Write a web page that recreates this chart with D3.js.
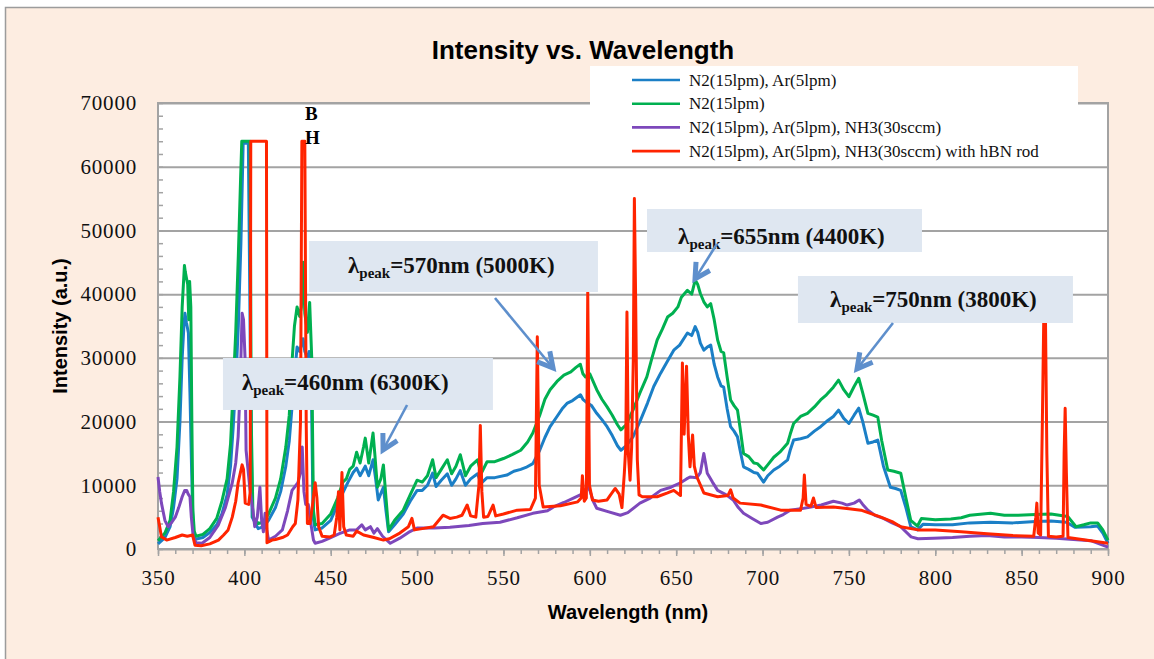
<!DOCTYPE html>
<html>
<head>
<meta charset="utf-8">
<script src="https://cdn.jsdelivr.net/npm/d3@7"></script>
<style>
  body { margin: 0; background: #fff; }
</style>
</head>
<body>
<div id="chart"></div>
<script>

// series names, in drawing order (last one on top)
const seriesNames = [
  "N2(15lpm), Ar(5lpm)",
  "N2(15lpm)",
  "N2(15lpm), Ar(5lpm), NH3(30sccm)",
  "N2(15lpm), Ar(5lpm), NH3(30sccm) with hBN rod"
];
const seriesColors = ["#1b7fc6", "#00b050", "#7d48bb", "#ff2400"];

// [wavelength nm, intensity a.u.]
const n2ArData = [
  [350,800],[354,1800],[357,3500],[359,6500],[361,11000],[362.7,20000],[364,30000],[365,35000],[365.6,37000],
  [366.5,35500],[367.6,33900],[368.5,24500],[369.5,12000],[370.3,3500],[371,1500],[376,1800],[380,2600],
  [384,3800],[387,5500],[390,8500],[392,13000],[393.5,19000],[395,26000],[396.5,35000],[398,48000],[399,60000],
  [399.3,63700],[402.3,63700],[403.5,30000],[404.5,5000],[408,3200],[411,3500],[414,4500],[418,6500],[421,9000],
  [424,13000],[426,17000],[427.5,22000],[429,27000],[430.5,31700],[432,31000],[433,32000],[434,33000],[435,31000],
  [436.5,30000],[437.5,31000],[438.8,25000],[439.8,5000],[441,3000],[445,3300],[450,4500],[454,7000],[457,8800],
  [460,10500],[463,12000],[465,12700],[467,11500],[470,13000],[472,11500],[474.5,14000],[476,11000],[477.5,7700],
  [480.5,9700],[482,6000],[483.5,2700],[487,3800],[492,5500],[496,7500],[500,9200],[503,9200],[506,10000],
  [509,11900],[511,9800],[514,10800],[517.5,11800],[520,10000],[522.5,11000],[525,12300],[528,10000],[531,11000],
  [535,11800],[537,10300],[540.5,11200],[545,11200],[552,11600],[556,12200],[560,12500],[563,12800],[567,13400],
  [571,15500],[574,17500],[577,19200],[581,20800],[584,22000],[587,22900],[590,23300],[594.6,24200],[596,23500],
  [598.6,22900],[601,22500],[604,21300],[607,20300],[610,19200],[613,17800],[616,16200],[618,15500],[621,16200],
  [625,17600],[629,20000],[633.4,22900],[637,25500],[641,27600],[645,29500],[648.6,31200],[652,32000],[656.5,33900],
  [659,33500],[661,34900],[662.5,34000],[664,32300],[666,31200],[668,31700],[670,32000],[672,29000],[674,27000],
  [676,25600],[677.5,25400],[679.5,22000],[681.5,19200],[683.5,18500],[685.5,17600],[687,15500],[689,12900],
  [692,12500],[695,12000],[697,11900],[700.6,10500],[703,11500],[706.5,12400],[710,13000],[714.5,14000],[716,15500],
  [718,17100],[722,17300],[726,17600],[730,18500],[733.6,19200],[737,20000],[741,20800],[744,21800],[747,20500],
  [750,19700],[753,21000],[755.7,22100],[758,20000],[761,16600],[764,16800],[766.7,17100],[770,13000],[774,9700],
  [777,9500],[780,9200],[783,6500],[785.8,3500],[789.7,3000],[793,3900],[800,3800],[810,3800],[820,4100],
  [832,4200],[845,4100],[858,4300],[867,4400],[876,4200],[881,3400],[890,3500],[894,3600],[897,2500],[900,900]
];

const n2Data = [
  [350,1300],[354,2500],[357,4500],[359,9000],[361,16000],[362.7,27000],[364,38000],[365.3,44500],[365.8,43500],
  [366.5,42500],[367.2,41500],[367.8,36000],[368.3,42000],[369,38000],[369.6,20000],[370.2,6000],[371,2800],
  [372,2000],[376,2300],[380,3200],[384,4800],[387,7500],[390,11000],[392,16500],[393.5,25000],[395,34000],
  [396.5,46000],[397.8,58000],[398.5,64000],[403.3,64000],[404,20000],[405,5000],[408,4000],[411,4200],[414,5500],
  [418,8000],[421,11000],[424,16000],[426,21000],[427.5,29000],[429,35000],[430.5,38000],[432,36500],[433,38000],
  [434,45000],[435,37000],[436.5,34000],[437.8,38700],[439,30000],[440,6000],[441,3800],[445,4000],[450,5500],
  [454,8000],[457,10500],[459,11000],[461,12500],[463,13000],[465,15200],[467,13500],[469,16000],[470,17400],
  [472,13500],[474.5,18200],[475.5,15000],[477,9700],[479,11000],[480.5,13200],[482,8000],[483.5,3000],[487,4500],
  [492,6100],[496,8500],[500,10800],[503,10500],[506,11500],[509,14000],[511,11200],[514,12500],[517.5,14000],
  [520,11800],[522.5,13000],[525,14800],[528,11500],[531,13000],[535,14000],[537,11800],[540.5,13700],[545,13700],
  [550,14200],[555,14800],[560,15500],[564,16800],[567,18200],[571,21000],[574,23500],[577,25000],[581,26300],
  [585,27300],[589,27800],[592,28500],[594.5,29000],[596,27500],[597.5,27000],[600,27500],[604,25000],[607,23500],
  [610,22300],[613,21000],[616,19500],[618,18700],[621,19500],[625,21800],[629,24500],[633,27000],[636,30000],
  [639,32800],[642,34500],[645,36400],[648,37000],[651,38000],[653,39500],[656.5,40600],[659,40000],[661,42200],
  [662.5,41500],[664,40100],[666,38800],[668,38000],[670,38500],[672,36000],[674,32800],[676,31000],[677.5,30800],
  [679.5,27000],[681.5,23400],[683.5,22500],[685.5,21800],[687,19000],[689,15000],[692,14500],[695,13500],
  [697,13400],[700.6,12400],[703,13200],[706.5,14400],[710,15200],[714.5,16600],[716,18000],[718,19700],[722,20800],
  [726,21300],[730,22300],[733.6,23400],[737,24200],[741,25400],[744,26500],[747,25000],[750,23900],[753,25500],
  [755.7,26800],[758,24500],[761,21300],[764,21000],[766.7,20700],[769,17000],[772.5,12400],[776,12200],[780,11900],
  [783,8000],[785.8,4500],[789.7,3600],[792,4800],[800,4600],[809,4700],[815,4900],[820,5300],[832,5600],[840,5300],
  [848,5300],[858,5400],[867,5500],[876.7,5100],[881.5,3500],[886,3800],[890,4100],[894,4100],[897,3000],[900,1400]
];

const nh3Data = [
  [350,11300],[351,9000],[352,7200],[354,4500],[355.8,3500],[358,4200],[360,5000],[362,6500],[364,8200],
  [365.5,9200],[366.6,9200],[367.5,8600],[368.5,8200],[369.3,5000],[370.4,1900],[372,1000],[375.5,900],[380,1800],
  [385,3800],[389,6500],[393,10400],[395,13500],[396.4,17600],[397.5,25000],[398.7,37000],[399.5,36000],
  [400.4,30000],[401,15500],[403.3,9200],[405,6000],[406,3500],[407.5,5000],[409,9700],[410,4500],[411,2700],
  [412,5600],[413,3000],[414,1400],[418,2000],[422,3000],[425,6000],[427.6,9200],[431,10400],[432.5,12000],
  [433.5,16000],[434.5,9000],[435.5,7000],[437,7000],[438.5,4000],[440,1400],[441,900],[445,1200],[450,1800],
  [455,2400],[461,3000],[465,3000],[468,3800],[470,3000],[473,3500],[475,2500],[477,3200],[480,2000],[484.5,900],
  [490,1700],[495,2600],[500,3300],[510,3300],[519,3400],[530,3700],[538,4000],[548,4200],[558,4900],[567,5600],
  [575.5,6000],[579,6600],[585,7300],[590.5,8000],[596,8700],[598.6,9800],[600,9200],[602,7500],[604,6400],
  [610,5900],[617.7,5300],[622,5700],[629,7200],[635,8000],[641,9200],[647,9700],[652.5,10400],[656,11000],
  [658,11300],[662,11200],[664,12000],[665,13500],[666,15000],[667,13500],[668,11900],[671,10500],[674,9200],
  [679,8500],[683,7700],[686,6500],[689,5600],[694,4800],[699,4000],[703,4200],[708.7,5000],[712,5400],[716,6100],
  [722,6300],[728,6600],[734,6900],[741,7500],[746,7200],[749,6900],[753,7200],[756,7700],[758,7000],[761,6100],
  [765,5300],[770,4800],[775,4100],[780,3500],[786,1900],[790,1600],[799,1700],[810,1800],[820,2000],[830,2100],
  [840,1900],[850,1900],[860,1800],[870,1700],[880,1500],[890,1300],[900,300]
];

const hbnData = [
  [350,5000],[351,3500],[352,1900],[355,1400],[360,1800],[364,2200],[367,2000],[370,2200],[371.4,600],[375,500],
  [380,800],[385,1400],[388,2200],[390.6,3000],[393,5000],[395,7500],[396.4,10400],[398.7,13200],[399.5,12500],
  [400.5,7200],[402.5,7000],[403.4,9000],[403.7,64000],[412.8,64000],[413.1,1000],[416,1400],[418,1500],[422,1800],
  [425,2200],[428,3500],[429.5,4000],[431,7700],[432.5,20000],[433.3,64000],[435,64000],[435.8,20000],[436.5,4000],
  [438,4000],[439.5,7000],[441,10400],[442,8000],[443,3500],[445,2000],[449.7,1900],[452,2200],[453.5,5000],
  [454.5,9000],[455.3,3000],[456.5,12000],[457.5,3500],[459,2200],[463,2000],[465,2800],[469,2200],[475,1800],
  [480.5,1400],[484,1600],[490,2500],[495,3500],[497,4800],[498.5,3000],[503,3200],[509.5,3500],[515,5300],
  [519,4800],[523,5000],[526,5300],[529,6900],[531,5200],[534,5000],[535.8,10000],[536.6,19400],[537.5,9000],
  [538.5,5000],[541,5100],[544,6900],[545.5,5200],[550,5500],[558,6100],[565.6,6200],[568.5,8000],[569.6,33300],
  [570.7,10000],[573,6600],[583,6800],[593,7400],[595,8000],[595.7,11500],[596.8,7500],[598,8000],[598.8,40300],
  [599.8,10000],[601.5,7700],[605,7500],[610,7700],[612,8500],[614.7,9500],[617,8600],[618.6,6500],[620,12000],
  [620.8,16000],[621.5,37200],[622.3,15000],[623.3,10800],[624.2,16000],[625.2,30000],[625.8,55000],[626.5,40000],
  [627.5,14000],[628.5,8500],[630.4,8200],[639,8200],[645,8800],[648.6,9200],[652.5,8400],[653.6,29200],
  [654.6,18000],[656,28700],[657,18000],[658,12900],[659.5,17900],[660.5,13000],[662,11300],[666,8800],[674,8200],
  [680,8400],[681.5,9300],[683,8000],[687,7200],[699,6900],[710.5,6100],[722,6100],[723.5,8000],[724.2,11600],
  [725.2,7000],[728,6700],[729.5,8000],[731,6500],[741,6600],[750,6300],[757,6100],[768.5,5000],[775,4300],
  [780,3500],[790,3000],[800,3000],[815,2700],[830,2400],[845,2100],[857,2000],[858.2,5000],[858.8,7200],
  [859.6,2500],[861,2200],[862,20000],[862.8,36000],[863.8,36000],[864.6,15000],[865.5,2000],[870,1900],[874,2000],
  [874.6,15000],[875.2,22100],[875.9,12000],[876.8,1800],[885,1500],[895,1100],[900,900]
];

const allSeries = [n2ArData, n2Data, nh3Data, hbnData];

// axis ticks
const xTicks = [350, 400, 450, 500, 550, 600, 650, 700, 750, 800, 850, 900];
const yTicks = [0, 10000, 20000, 30000, 40000, 50000, 60000, 70000];

// peak call-outs: label, arrow tail and tip [nm, value], box corners [nm, value]
const peakLabels = ["=460nm (6300K)", "=570nm (5000K)", "=655nm (4400K)", "=750nm (3800K)"];
const peakTail = [[494.2, 22600], [545.1, 39390], [673.6, 47890], [775.5, 35470]];
const peakTip = [[480.3, 15540], [578.7, 28410], [660.9, 42400], [754.7, 28250]];
const peakBoxes = [
  [[387.6, 29980], [543.9, 21820]],
  [[437.4, 48340], [604.7, 40340]],
  [[633.1, 53360], [792.3, 46610]],
  [[720.5, 42850], [879.7, 35470]]
];
const peakTextAt = [[398.6, 24955], [460, 43320], [651.1, 47890], [739.1, 38010]];

const width = 1154, height = 659;
const margin = {left: 158, right: 46, top: 103, bottom: 110};
const serif = "Liberation Serif", sans = "Liberation Sans";

const svg = d3.select("#chart").append("svg")
  .attr("width", width)
  .attr("height", height)
  .attr("font-family", serif);

// chart area
svg.append("rect")
  .attr("x", 5.5).attr("y", 7.5)
  .attr("width", 1170).attr("height", 680)
  .attr("fill", "#fdede1")
  .attr("stroke", "#9c9c9c")
  .attr("stroke-width", 1.5);

const x = d3.scaleLinear().domain([350, 900]).range([margin.left, width - margin.right]);
const y = d3.scaleLinear().domain([0, 70000]).range([height - margin.bottom, margin.top]);

// plot area
svg.append("rect")
  .attr("x", x(350)).attr("y", y(70000))
  .attr("width", x(900) - x(350)).attr("height", y(0) - y(70000))
  .attr("fill", "#fff");

// gridlines
svg.append("g")
  .attr("transform", `translate(${x(350)},0)`)
  .call(d3.axisLeft(y).tickValues(yTicks).tickSize(-(x(900) - x(350))).tickFormat(""))
  .call(g => g.select(".domain").remove())
  .call(g => g.selectAll("line").attr("stroke", "#a3a3a3").attr("stroke-width", 2));

// y minor ticks (inside)
svg.append("g")
  .attr("transform", `translate(${x(350)},0)`)
  .call(d3.axisRight(y).tickValues(d3.range(0, 70001, 2000)).tickSize(5).tickFormat(""))
  .call(g => g.select(".domain").remove())
  .call(g => g.selectAll("line").attr("stroke", "#a3a3a3").attr("stroke-width", 1.5));

// y labels
svg.append("g")
  .attr("transform", `translate(${x(350)},0)`)
  .call(d3.axisLeft(y).tickValues(yTicks).tickSize(0).tickPadding(21).tickFormat(d3.format("d")))
  .call(g => g.select(".domain").remove())
  .call(g => g.selectAll("text")
    .attr("font-family", serif).attr("font-size", 21)
    .attr("letter-spacing", 0.8).attr("fill", "#111"));

// x minor ticks
svg.append("g")
  .attr("transform", `translate(0,${y(0)})`)
  .call(d3.axisBottom(x).tickValues(d3.range(350, 901, 10)).tickSize(5).tickFormat(""))
  .call(g => g.select(".domain").remove())
  .call(g => g.selectAll("line").attr("stroke", "#a3a3a3").attr("stroke-width", 1.5));

// x major ticks + labels
svg.append("g")
  .attr("transform", `translate(0,${y(0)})`)
  .call(d3.axisBottom(x).tickValues(xTicks).tickSize(7).tickPadding(14).tickFormat(d3.format("d")))
  .call(g => g.select(".domain").remove())
  .call(g => g.selectAll("line").attr("stroke", "#a3a3a3").attr("stroke-width", 1.5))
  .call(g => g.selectAll("text")
    .attr("font-family", serif).attr("font-size", 21)
    .attr("letter-spacing", 0.8).attr("fill", "#111"));

// plot border
svg.append("rect")
  .attr("x", x(350)).attr("y", y(70000))
  .attr("width", x(900) - x(350)).attr("height", y(0) - y(70000))
  .attr("fill", "none")
  .attr("stroke", "#a3a3a3")
  .attr("stroke-width", 2);

// spectra
const line = d3.line()
  .x(d => x(d[0]))
  .y(d => y(d[1]));

svg.selectAll(".spectrum")
  .data(allSeries)
  .enter()
  .append("path")
    .attr("class", "spectrum")
    .attr("d", line)
    .attr("fill", "none")
    .attr("stroke", (d, i) => seriesColors[i])
    .attr("stroke-width", 3)
    .attr("stroke-linejoin", "round");

// B / H labels
svg.append("text").attr("x", x(435.1)).attr("y", y(67330))
  .attr("font-weight", "bold").attr("font-size", 19).text("B");
svg.append("text").attr("x", x(435.1)).attr("y", y(63560))
  .attr("font-weight", "bold").attr("font-size", 19).text("H");

// peak call-outs
const arrowColor = "#5e8fcc";
peakLabels.forEach((lab, i) => {
  const b = peakBoxes[i];
  svg.append("rect")
    .attr("x", x(b[0][0])).attr("y", y(b[0][1]))
    .attr("width", x(b[1][0]) - x(b[0][0]))
    .attr("height", y(b[1][1]) - y(b[0][1]))
    .attr("fill", "#dfe7f1");

  const t = svg.append("text")
    .attr("x", x(peakTextAt[i][0])).attr("y", y(peakTextAt[i][1]))
    .attr("font-weight", "bold").attr("font-size", 23).attr("fill", "#111");
  t.append("tspan").text("λ");
  t.append("tspan").attr("font-size", 15).attr("dy", 5).text("peak");
  t.append("tspan").attr("dy", -5).text(lab);

  const x0 = x(peakTail[i][0]), y0 = y(peakTail[i][1]);
  const x1 = x(peakTip[i][0]), y1 = y(peakTip[i][1]);
  svg.append("line")
    .attr("x1", x0).attr("y1", y0).attr("x2", x1).attr("y2", y1)
    .attr("stroke", arrowColor).attr("stroke-width", 2.6);
  const ang = Math.atan2(y0 - y1, x0 - x1);
  const len = 17, spread = 0.5;
  const pts = [
    [x1 + len * Math.cos(ang - spread), y1 + len * Math.sin(ang - spread)],
    [x1, y1],
    [x1 + len * Math.cos(ang + spread), y1 + len * Math.sin(ang + spread)]
  ];
  svg.append("path")
    .attr("d", d3.line()(pts))
    .attr("fill", "none")
    .attr("stroke", arrowColor)
    .attr("stroke-width", 5)
    .attr("stroke-linejoin", "miter");
});

// title and axis titles
svg.append("text")
  .attr("x", 583).attr("y", 59)
  .attr("text-anchor", "middle")
  .attr("font-family", sans).attr("font-weight", "bold").attr("font-size", 26)
  .text("Intensity vs. Wavelength");

svg.append("text")
  .attr("x", 628).attr("y", 619)
  .attr("text-anchor", "middle")
  .attr("font-family", sans).attr("font-weight", "bold").attr("font-size", 20)
  .text("Wavelength (nm)");

svg.append("text")
  .attr("transform", `translate(67,${(y(0) + y(70000)) / 2}) rotate(-90)`)
  .attr("text-anchor", "middle")
  .attr("font-family", sans).attr("font-weight", "bold").attr("font-size", 20)
  .text("Intensity (a.u.)");

// legend
const legend = svg.append("g");
legend.append("rect")
  .attr("x", 590).attr("y", 66)
  .attr("width", 488).attr("height", 97)
  .attr("fill", "#fff");
seriesNames.forEach((name, i) => {
  const ly = 80 + i * 23.7;
  legend.append("line")
    .attr("x1", 632).attr("x2", 680).attr("y1", ly).attr("y2", ly)
    .attr("stroke", seriesColors[i]).attr("stroke-width", 2.6);
  legend.append("text")
    .attr("x", 689).attr("y", ly + 5.5)
    .attr("font-size", 17).attr("fill", "#111")
    .text(name);
});

</script>
</body>
</html>
